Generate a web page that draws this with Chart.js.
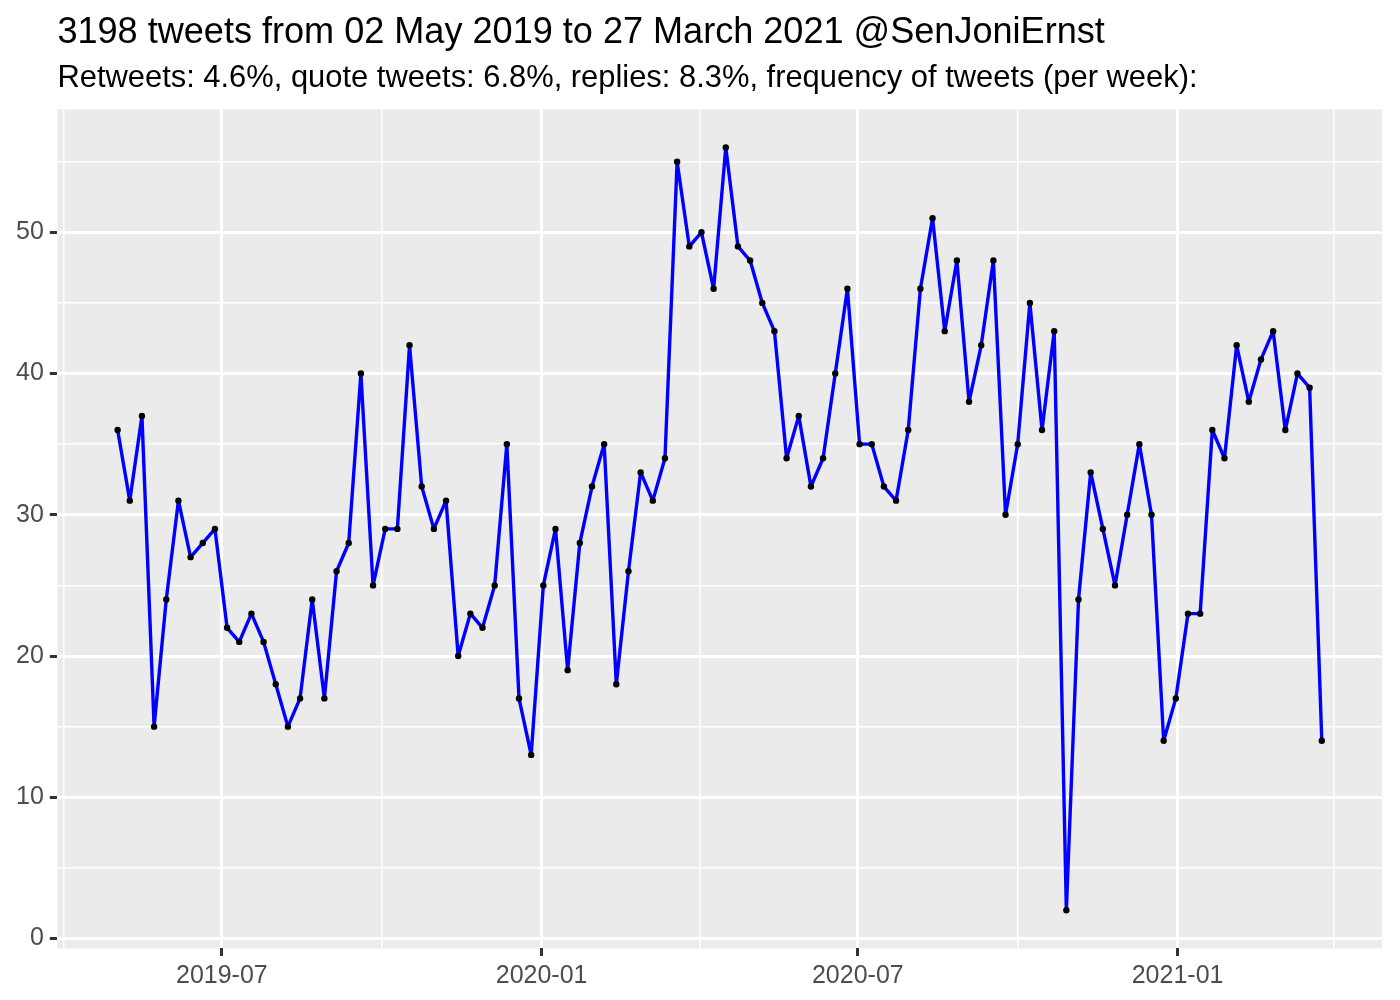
<!DOCTYPE html>
<html>
<head>
<meta charset="utf-8">
<title>SenJoniErnst tweets per week</title>
<script src="https://cdn.jsdelivr.net/npm/chart.js@4.4.1/dist/chart.umd.min.js"></script>
<style>
  body { margin: 0; background: #fff; }
  #wrap { width: 1400px; height: 1000px; }
</style>
</head>
<body>
<div id="wrap"><canvas id="chart" width="1400" height="1000"></canvas></div>
<script>
// start date of each weekly bucket
var weeks = [
  '2019-05-02','2019-05-09','2019-05-16','2019-05-23','2019-05-30',
  '2019-06-06','2019-06-13','2019-06-20','2019-06-27',
  '2019-07-04','2019-07-11','2019-07-18','2019-07-25',
  '2019-08-01','2019-08-08','2019-08-15','2019-08-22','2019-08-29',
  '2019-09-05','2019-09-12','2019-09-19','2019-09-26',
  '2019-10-03','2019-10-10','2019-10-17','2019-10-24','2019-10-31',
  '2019-11-07','2019-11-14','2019-11-21','2019-11-28',
  '2019-12-05','2019-12-12','2019-12-19','2019-12-26',
  '2020-01-02','2020-01-09','2020-01-16','2020-01-23','2020-01-30',
  '2020-02-06','2020-02-13','2020-02-20','2020-02-27',
  '2020-03-05','2020-03-12','2020-03-19','2020-03-26',
  '2020-04-02','2020-04-09','2020-04-16','2020-04-23','2020-04-30',
  '2020-05-07','2020-05-14','2020-05-21','2020-05-28',
  '2020-06-04','2020-06-11','2020-06-18','2020-06-25',
  '2020-07-02','2020-07-09','2020-07-16','2020-07-23','2020-07-30',
  '2020-08-06','2020-08-13','2020-08-20','2020-08-27',
  '2020-09-03','2020-09-10','2020-09-17','2020-09-24',
  '2020-10-01','2020-10-08','2020-10-15','2020-10-22','2020-10-29',
  '2020-11-05','2020-11-12','2020-11-19','2020-11-26',
  '2020-12-03','2020-12-10','2020-12-17','2020-12-24','2020-12-31',
  '2021-01-07','2021-01-14','2021-01-21','2021-01-28',
  '2021-02-04','2021-02-11','2021-02-18','2021-02-25',
  '2021-03-04','2021-03-11','2021-03-18','2021-03-25'
];
// tweets per week
var tweets = [
  36, 31, 37, 15, 24, 31, 27, 28, 29, 22,
  21, 23, 21, 18, 15, 17, 24, 17, 26, 28,
  40, 25, 29, 29, 42, 32, 29, 31, 20, 23,
  22, 25, 35, 17, 13, 25, 29, 19, 28, 32,
  35, 18, 26, 33, 31, 34, 55, 49, 50, 46,
  56, 49, 48, 45, 43, 34, 37, 32, 34, 40,
  46, 35, 35, 32, 31, 36, 46, 51, 43, 48,
  38, 42, 48, 30, 35, 45, 36, 43, 2, 24,
  33, 29, 25, 30, 35, 30, 14, 17, 23, 23,
  36, 34, 42, 38, 41, 43, 36, 40, 39, 14
];

var majorDates = ['2019-07-01', '2020-01-01', '2020-07-01', '2021-01-01'];
var majorLabels = ['2019-07', '2020-01', '2020-07', '2021-01'];
var minorDates = ['2019-04-01', '2019-10-01', '2020-04-01', '2020-10-01', '2021-04-01'];
var yMajor = [0, 10, 20, 30, 40, 50];
var yMinor = [5, 15, 25, 35, 45, 55];

var titleText = '3198 tweets from 02 May 2019 to 27 March 2021 @SenJoniErnst';
var subtitleText = 'Retweets: 4.6%, quote tweets: 6.8%, replies: 8.3%, frequency of tweets (per week):';

var fam = '"Liberation Sans", Arial, Helvetica, sans-serif';

function dayNum(s) {
  var p = s.split('-');
  return Date.UTC(+p[0], +p[1] - 1, +p[2]) / 86400000;
}

var points = [];
for (let i = 0; i < weeks.length; i++) {
  points.push({ x: dayNum(weeks[i]), y: tweets[i] });
}

// ggplot style 5% expansion
var x0 = dayNum(weeks[0]), x1 = dayNum(weeks[weeks.length - 1]);
var xPad = (x1 - x0) * 0.05;
var yLo = Math.min.apply(null, tweets), yHi = Math.max.apply(null, tweets);
var yPad = (yHi - yLo) * 0.05;

var xMajorVals = majorDates.map(dayNum);
var xMinorVals = minorDates.map(dayNum);
var xTickVals = xMinorVals.concat(xMajorVals).sort(function (a, b) { return a - b; });
var yTickVals = yMajor.concat(yMinor).sort(function (a, b) { return a - b; });

function isMajorX(v) { return xMajorVals.indexOf(v) >= 0; }
function isMajorY(v) { return yMajor.indexOf(v) >= 0; }

// grey panel behind the grid
var panelBg = {
  id: 'panelBg',
  beforeDraw: function (chart) {
    var a = chart.chartArea;
    var c = chart.ctx;
    c.save();
    c.fillStyle = '#EBEBEB';
    c.fillRect(a.left, a.top, a.right - a.left, a.bottom - a.top);
    c.restore();
  }
};

var context = document.querySelector('#chart').getContext('2d');
new Chart(context, {
  type: 'line',
  data: {
    datasets: [{
      data: points,
      borderColor: '#0000FF',
      borderWidth: 3.4,
      borderJoinStyle: 'round',
      borderCapStyle: 'round',
      tension: 0,
      pointRadius: 3.2,
      pointBackgroundColor: '#000000',
      pointBorderWidth: 0,
      clip: false
    }]
  },
  options: {
    responsive: false,
    animation: false,
    layout: { padding: { left: 10, right: 18, top: 0, bottom: 4 } },
    plugins: {
      legend: { display: false },
      tooltip: { enabled: false },
      title: {
        display: true,
        text: titleText,
        align: 'start',
        fullSize: false,
        color: '#000',
        font: { family: fam, size: 36.1, weight: 'normal' },
        padding: { top: 11, bottom: 3 }
      },
      subtitle: {
        display: true,
        text: subtitleText,
        align: 'start',
        fullSize: false,
        color: '#000',
        font: { family: fam, size: 30.9, weight: 'normal' },
        padding: { top: 3, bottom: 12 }
      }
    },
    scales: {
      x: {
        type: 'linear',
        min: x0 - xPad,
        max: x1 + xPad,
        afterBuildTicks: function (s) {
          s.ticks = xTickVals.map(function (v) { return { value: v }; });
        },
        ticks: {
          autoSkip: false,
          maxRotation: 0,
          color: '#4D4D4D',
          font: { family: fam, size: 25 },
          padding: 5,
          callback: function (v) {
            var k = xMajorVals.indexOf(v);
            return k >= 0 ? majorLabels[k] : '';
          }
        },
        grid: {
          color: '#FFFFFF',
          lineWidth: function (c) { return c.tick && isMajorX(c.tick.value) ? 3 : 1.5; },
          tickLength: 7.6,
          tickWidth: 3,
          tickColor: function (c) { return c.tick && isMajorX(c.tick.value) ? '#333333' : 'rgba(0,0,0,0)'; }
        },
        border: { display: false }
      },
      y: {
        type: 'linear',
        min: yLo - yPad,
        max: yHi + yPad,
        afterBuildTicks: function (s) {
          s.ticks = yTickVals.map(function (v) { return { value: v }; });
        },
        ticks: {
          autoSkip: false,
          color: '#4D4D4D',
          font: { family: fam, size: 25 },
          padding: 6,
          callback: function (v) { return isMajorY(v) ? String(v) : ''; }
        },
        grid: {
          color: '#FFFFFF',
          lineWidth: function (c) { return c.tick && isMajorY(c.tick.value) ? 3 : 1.5; },
          tickLength: 7.6,
          tickWidth: 3,
          tickColor: function (c) { return c.tick && isMajorY(c.tick.value) ? '#333333' : 'rgba(0,0,0,0)'; }
        },
        border: { display: false }
      }
    }
  },
  plugins: [panelBg]
});
</script>
</body>
</html>
